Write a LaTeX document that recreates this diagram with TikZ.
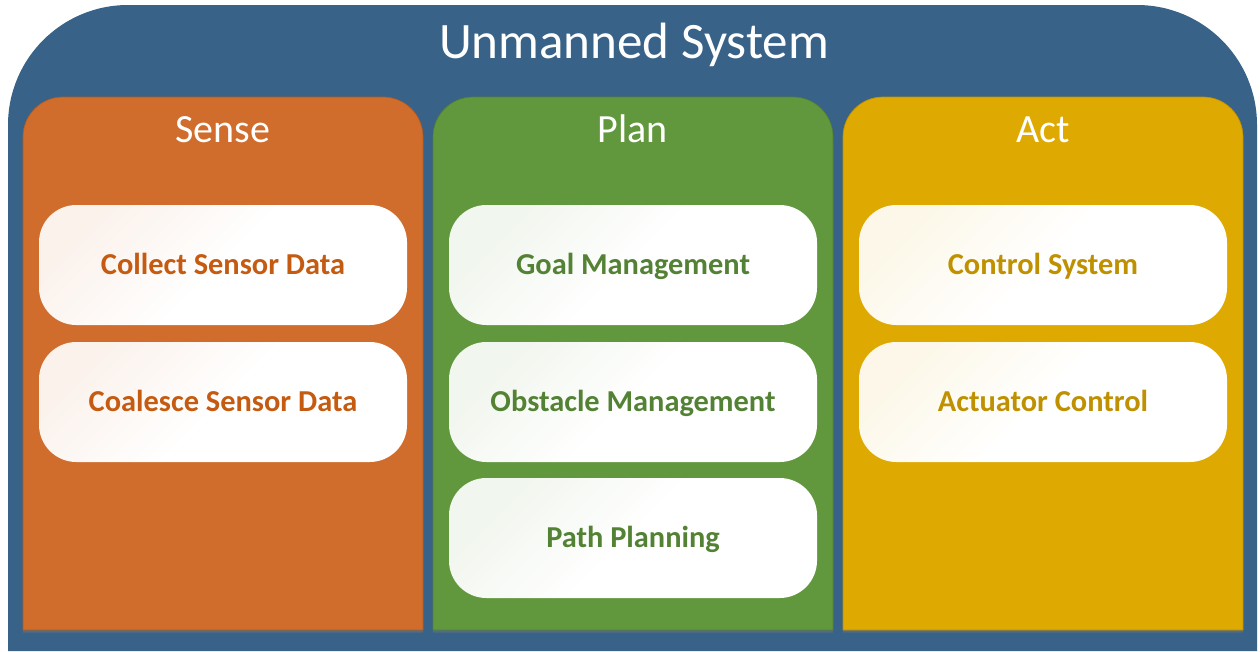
\documentclass[tikz,border=0pt]{standalone}
\usepackage{fontspec}
\setmainfont{Carlito}
\usetikzlibrary{shadows}

\definecolor{sysblue}{RGB}{56,98,135}
\definecolor{senseorange}{RGB}{208,108,44}
\definecolor{plangreen}{RGB}{98,152,61}
\definecolor{actgold}{RGB}{222,169,0}
\definecolor{sensetext}{RGB}{197,90,17}
\definecolor{plantext}{RGB}{84,130,53}
\definecolor{acttext}{RGB}{191,144,0}

\tikzset{every picture/.style={line width=0.75pt}}
\tikzset{
  panel/.style={fill=#1, draw=#1!85!black, line width=0.5pt,
    drop shadow={shadow xshift=0pt, shadow yshift=-2pt, opacity=0.35}},
  paneltitle/.style={text=white, font=\fontsize{30}{36}\selectfont, anchor=base},
  taskbox/.style={draw=none, rounded corners=28pt, minimum width=276pt, minimum height=90pt,
    top color=#1!9!white, bottom color=white, middle color=white, shading angle=45,
    font=\bfseries\fontsize{22.8}{27}\selectfont, text height=13.7pt, text depth=0pt},
}

\begin{document}
\begin{tikzpicture}[x=0.75pt,y=0.75pt,yscale=-1,xscale=1]
\useasboundingbox (0,0) rectangle (1260,651);

%Shape: Outer Frame [id:unmanned]
\fill[sysblue] (8,651) [rounded corners=90pt] -- (8,5) -- (1257,5) [sharp corners] -- (1257,651) -- cycle;
%Shape: Sense Panel [id:sensepanel]
\path[panel=senseorange] (23,630) [rounded corners=30pt] -- (23,97) -- (423,97) [sharp corners] -- (423,630) -- cycle;
%Shape: Plan Panel [id:planpanel]
\path[panel=plangreen] (433,630) [rounded corners=30pt] -- (433,97) -- (833,97) [sharp corners] -- (833,630) -- cycle;
%Shape: Act Panel [id:actpanel]
\path[panel=actgold] (843,630) [rounded corners=30pt] -- (843,97) -- (1243,97) [sharp corners] -- (1243,630) -- cycle;

% Text Node
\node[text=white, font=\fontsize{38.3}{44}\selectfont, anchor=base] (system) at (634,58) {Unmanned System};
% Text Node
\node[paneltitle] (sense) at (223,142) {Sense};
% Text Node
\node[paneltitle] (plan) at (633,142) {Plan};
% Text Node
\node[paneltitle] (act) at (1043,142) {Act};

% Sense tasks
\node[taskbox=senseorange, text=sensetext] (collect) at (223,265) {Collect Sensor Data};
\node[taskbox=senseorange, text=sensetext] (coalesce) at (223,402) {Coalesce Sensor Data};
% Plan tasks
\node[taskbox=plangreen, text=plantext] (goal) at (633,265) {Goal Management};
\node[taskbox=plangreen, text=plantext] (obstacle) at (633,402) {Obstacle Management};
\node[taskbox=plangreen, text=plantext] (path) at (633,538) {Path Planning};
% Act tasks
\node[taskbox=actgold, text=acttext] (control) at (1043,265) {Control System};
\node[taskbox=actgold, text=acttext] (actuator) at (1043,402) {Actuator Control};

\end{tikzpicture}
\end{document}
